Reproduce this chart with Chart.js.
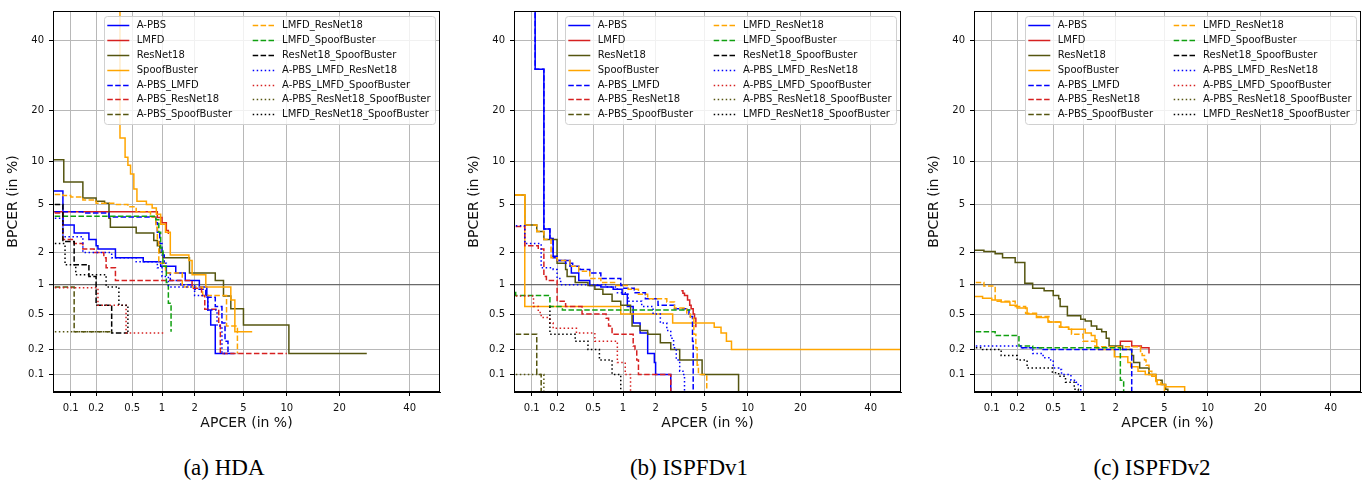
<!DOCTYPE html>
<html>
<head>
<meta charset="utf-8">
<script src="https://cdn.jsdelivr.net/npm/chart.js@4.4.1/dist/chart.umd.min.js"></script>
<style>
body { margin: 0; background: #fff; width: 1371px; height: 487px; overflow: hidden; position: relative; }
canvas { position: absolute; top: 0; }
.cap { position: absolute; top: 455px; width: 300px; text-align: center; font-family: "Liberation Serif", "Times New Roman", serif; font-size: 23px; line-height: 26px; color: #000; }
</style>
</head>
<body>
<canvas id="hda" width="450" height="440" style="left:0px"></canvas>
<canvas id="v1" width="450" height="440" style="left:461px"></canvas>
<canvas id="v2" width="450" height="440" style="left:921px"></canvas>
<div class="cap" style="left:74px">(a) HDA</div>
<div class="cap" style="left:539px">(b) ISPFDv1</div>
<div class="cap" style="left:1002px">(c) ISPFDv2</div>
<script>
// axis ticks (percent) and limits
const tickValues = [0.1, 0.2, 0.5, 1, 2, 5, 10, 20, 40];
const axisMin = 0.06;
const axisMax = 50;

const seriesNames = ['A-PBS', 'LMFD', 'ResNet18', 'SpoofBuster', 'A-PBS_LMFD', 'A-PBS_ResNet18',
    'A-PBS_SpoofBuster', 'LMFD_ResNet18', 'LMFD_SpoofBuster', 'ResNet18_SpoofBuster',
    'A-PBS_LMFD_ResNet18', 'A-PBS_LMFD_SpoofBuster', 'A-PBS_ResNet18_SpoofBuster', 'LMFD_ResNet18_SpoofBuster'];

// [APCER %, BPCER %] step points
// (a) HDA
const hda_APBS = [[0.05,6.3],[0.08,3.45],[0.11,2.95],[0.165,2.6],[0.2,2.3],[0.21,2.15],[0.33,1.8],[0.65,1.65],[0.97,1.5],[1.35,1.3],[1.65,1.1],[2.2,0.95],[2.55,0.78],[2.6,0.55],[2.75,0.38],[3.0,0.18],[3.8,0.18]];
const hda_LMFD = [[0.05,4.4],[0.9,3.95],[1.0,3.6],[1.1,3.1],[1.15,2.9]];
const hda_ResNet18 = [[0.05,10.3],[0.082,7.3],[0.14,5.6],[0.2,5.3],[0.25,5.1],[0.28,3.9],[0.29,3.3],[0.55,2.95],[0.83,2.55],[0.9,2.3],[0.95,2.0],[1.02,1.8],[1.8,1.3],[3.0,1.1],[3.5,0.77],[4.0,0.57],[5.0,0.38],[10.3,0.18],[27,0.18]];
const hda_SpoofBuster = [[0.37,60],[0.37,14],[0.42,10.7],[0.45,9.5],[0.48,8.3],[0.52,6.5],[0.56,5.3],[0.7,5.0],[0.8,4.7],[0.88,4.2],[0.97,3.5],[1.08,3.0],[1.2,1.9],[1.78,1.7],[1.9,1.25],[2.5,0.95],[4.0,0.7],[4.3,0.32],[5.8,0.32]];
const hda_APBS_LMFD = [[0.05,4.4],[0.14,4.3],[0.28,4.0],[0.87,3.6],[0.9,3.0],[0.95,2.4],[1.0,1.9],[1.05,1.6],[1.1,1.3],[1.2,1.1],[1.5,1.0],[2.0,0.9],[2.5,0.75],[3.0,0.6],[3.4,0.4],[3.6,0.25],[3.8,0.18],[4.5,0.18]];
const hda_APBS_ResNet18 = [[0.05,4.3],[0.08,2.6],[0.11,2.4],[0.14,2.15],[0.19,2.0],[0.245,1.8],[0.26,1.45],[0.33,1.1],[1.9,0.92],[2.3,0.78],[2.45,0.56],[3.2,0.38],[3.3,0.18],[10,0.18]];
const hda_APBS_SpoofBuster = [[0.05,0.95],[0.11,0.32],[0.3,0.32]];
const hda_LMFD_ResNet18 = [[0.05,5.95],[0.08,5.85],[0.1,5.7],[0.14,5.4],[0.2,5.1],[0.33,5.0],[0.45,4.8],[0.55,4.4],[0.77,4.0],[0.87,3.3],[0.9,2.5],[0.93,1.6],[1.08,1.3],[1.55,0.95],[2.35,0.78],[3.7,0.37],[4.5,0.18]];
const hda_LMFD_SpoofBuster = [[0.05,4.05],[0.87,3.8],[0.93,3.0],[0.97,2.2],[1.02,1.5],[1.1,1.05],[1.15,0.65],[1.22,0.32]];
const hda_ResNet18_SpoofBuster = [[0.05,5.0],[0.08,2.5],[0.11,1.55],[0.165,1.2],[0.2,0.62],[0.3,0.31],[0.45,0.31]];
const hda_APBS_LMFD_ResNet18 = [[0.05,3.9],[0.08,2.75],[0.14,2.0],[0.3,1.8],[0.55,1.65],[0.9,1.45],[1.0,1.2],[1.15,0.95],[2.0,0.78],[2.6,0.55],[3.1,0.37],[3.4,0.18],[4.0,0.18]];
const hda_APBS_LMFD_SpoofBuster = [[0.05,0.93],[0.21,0.62],[0.43,0.31],[1.08,0.31]];
const hda_APBS_ResNet18_SpoofBuster = [[0.05,0.32],[0.3,0.32]];
const hda_LMFD_ResNet18_SpoofBuster = [[0.05,2.4],[0.085,1.55],[0.115,1.25],[0.26,0.95],[0.36,0.62],[0.45,0.31]];

// (b) ISPFDv1
const v1_APBS = [[0.11,60],[0.11,31],[0.14,3.2],[0.165,2.65],[0.18,1.8],[0.2,1.7],[0.28,1.5],[0.29,1.3],[0.35,1.1],[0.46,0.98],[0.6,0.95],[0.8,0.9],[0.98,0.8],[1.1,0.6],[1.25,0.4],[1.45,0.31],[1.7,0.18],[1.95,0.14],[2.0,0.1],[2.7,0.04]];
const v1_LMFD = [[3.3,0.87],[3.4,0.82],[3.5,0.78],[3.7,0.7],[3.85,0.62],[3.95,0.57],[4.1,0.5],[4.2,0.45],[4.3,0.36]];
const v1_ResNet18 = [[0.05,5.9],[0.082,3.45],[0.115,3.05],[0.14,2.6],[0.2,1.6],[0.25,1.4],[0.26,1.2],[0.32,1.05],[0.44,0.98],[0.52,0.9],[0.63,0.8],[0.78,0.68],[0.95,0.62],[1.18,0.5],[1.22,0.37],[1.45,0.33],[1.7,0.3],[2.2,0.24],[2.7,0.2],[3.2,0.15],[4.8,0.1],[8.7,0.04]];
const v1_SpoofBuster = [[0.05,5.9],[0.082,0.6],[0.95,0.5],[2.8,0.4],[5.9,0.36],[6.6,0.31],[7.2,0.25],[7.8,0.2],[60,0.2]];
const v1_APBS_LMFD = [[0.11,60],[0.11,31],[0.14,3.2],[0.165,2.65],[0.18,1.85],[0.2,1.7],[0.25,1.6],[0.3,1.5],[0.36,1.4],[0.46,1.3],[0.6,1.15],[0.95,0.98],[1.02,0.92],[1.28,0.83],[1.62,0.72],[2.1,0.62],[2.9,0.57],[3.8,0.47],[4.05,0.25],[4.1,0.04]];
const v1_APBS_ResNet18 = [[0.05,3.35],[0.082,2.3],[0.12,2.15],[0.14,1.2],[0.15,1.1],[0.2,0.68],[0.25,0.6],[0.38,0.5],[0.68,0.45],[0.72,0.37],[0.78,0.3],[1.25,0.22],[1.3,0.2],[1.35,0.15],[1.4,0.1],[2.7,0.04]];
const v1_APBS_SpoofBuster = [[0.05,0.3],[0.115,0.1],[0.13,0.04]];
const v1_LMFD_ResNet18 = [[0.05,5.9],[0.082,3.45],[0.115,3.05],[0.14,2.6],[0.17,1.8],[0.2,1.7],[0.28,1.5],[0.35,1.35],[0.46,1.15],[0.6,1.05],[0.85,0.98],[1.12,0.9],[1.4,0.8],[1.7,0.72],[2.5,0.67],[2.9,0.58],[3.65,0.5],[3.9,0.45],[4.15,0.3],[4.3,0.21],[4.4,0.13],[4.5,0.1],[5.2,0.04]];
const v1_LMFD_SpoofBuster = [[0.05,0.85],[0.063,0.78],[0.165,0.6],[0.23,0.55],[3.9,0.55]];
const v1_ResNet18_SpoofBuster = [];
const v1_APBS_LMFD_ResNet18 = [[0.05,3.4],[0.082,2.4],[0.13,1.45],[0.18,1.4],[0.2,1.15],[0.22,1.0],[0.7,0.95],[0.88,0.83],[1.05,0.8],[1.12,0.68],[1.5,0.6],[1.9,0.5],[2.2,0.4],[2.5,0.33],[2.7,0.27],[2.85,0.21],[3.0,0.15],[3.2,0.11],[3.4,0.1],[3.5,0.04]];
const v1_APBS_LMFD_SpoofBuster = [[0.05,0.77],[0.105,0.6],[0.12,0.52],[0.13,0.46],[0.165,0.4],[0.18,0.35],[0.33,0.31],[0.52,0.25],[0.88,0.14],[1.05,0.1],[1.18,0.04]];
const v1_APBS_ResNet18_SpoofBuster = [[0.05,0.1],[0.14,0.04]];
const v1_LMFD_ResNet18_SpoofBuster = [[0.165,0.6],[0.165,0.3],[0.32,0.25],[0.44,0.2],[0.58,0.15],[0.78,0.1],[0.95,0.04]];

// (c) ISPFDv2
const v2_APBS = [];
const v2_LMFD = [[2.2,0.21],[2.2,0.25],[2.75,0.22],[3.3,0.21],[3.8,0.18]];
const v2_ResNet18 = [[0.05,2.1],[0.08,2.05],[0.11,1.95],[0.135,1.8],[0.19,1.63],[0.245,1.03],[0.3,0.92],[0.4,0.87],[0.5,0.78],[0.57,0.72],[0.59,0.6],[0.7,0.48],[0.95,0.44],[1.05,0.42],[1.2,0.37],[1.35,0.34],[1.5,0.32],[1.65,0.27],[1.75,0.22],[2.3,0.2],[2.75,0.17],[2.85,0.14],[3.2,0.12],[3.8,0.1],[4.3,0.085],[4.8,0.075],[5.1,0.065],[5.3,0.04]];
const v2_SpoofBuster = [[0.05,0.76],[0.077,0.73],[0.1,0.7],[0.13,0.67],[0.165,0.62],[0.2,0.58],[0.26,0.5],[0.33,0.46],[0.44,0.41],[0.6,0.36],[0.72,0.34],[1.05,0.31],[1.2,0.29],[1.3,0.26],[1.35,0.21],[1.4,0.2],[1.95,0.165],[2.55,0.14],[2.7,0.125],[3.1,0.11],[3.55,0.1],[4.0,0.095],[4.3,0.082],[4.4,0.075],[5.1,0.07],[7,0.04]];
const v2_APBS_LMFD = [[0.22,0.21],[0.39,0.2],[2.75,0.04]];
const v2_APBS_ResNet18 = [];
const v2_APBS_SpoofBuster = [];
const v2_LMFD_ResNet18 = [[0.05,1.05],[0.08,0.97],[0.11,0.68],[0.19,0.6],[0.25,0.51],[0.33,0.47],[0.45,0.41],[0.58,0.36],[0.72,0.34],[0.77,0.3],[1.0,0.25],[1.3,0.215],[3.25,0.19],[3.35,0.17],[3.5,0.15],[3.6,0.13],[3.8,0.11],[4.0,0.1],[4.3,0.085],[4.7,0.075],[5.0,0.04]];
const v2_LMFD_SpoofBuster = [[0.05,0.32],[0.11,0.29],[0.21,0.22],[0.3,0.21],[2.2,0.085],[2.35,0.04]];
const v2_ResNet18_SpoofBuster = [];
const v2_APBS_LMFD_ResNet18 = [[0.05,0.22],[0.22,0.21],[0.29,0.2],[0.3,0.18],[0.39,0.16],[0.47,0.15],[0.5,0.12],[0.57,0.115],[0.61,0.1],[0.76,0.085],[0.85,0.08],[0.88,0.075],[0.95,0.04]];
const v2_APBS_LMFD_SpoofBuster = [];
const v2_APBS_ResNet18_SpoofBuster = [];
const v2_LMFD_ResNet18_SpoofBuster = [[0.05,0.21],[0.077,0.2],[0.13,0.17],[0.2,0.15],[0.26,0.12],[0.49,0.105],[0.57,0.095],[0.67,0.08],[0.82,0.065],[0.9,0.04]];

const hdaSeries = [hda_APBS, hda_LMFD, hda_ResNet18, hda_SpoofBuster, hda_APBS_LMFD, hda_APBS_ResNet18,
    hda_APBS_SpoofBuster, hda_LMFD_ResNet18, hda_LMFD_SpoofBuster, hda_ResNet18_SpoofBuster,
    hda_APBS_LMFD_ResNet18, hda_APBS_LMFD_SpoofBuster, hda_APBS_ResNet18_SpoofBuster, hda_LMFD_ResNet18_SpoofBuster];
const v1Series = [v1_APBS, v1_LMFD, v1_ResNet18, v1_SpoofBuster, v1_APBS_LMFD, v1_APBS_ResNet18,
    v1_APBS_SpoofBuster, v1_LMFD_ResNet18, v1_LMFD_SpoofBuster, v1_ResNet18_SpoofBuster,
    v1_APBS_LMFD_ResNet18, v1_APBS_LMFD_SpoofBuster, v1_APBS_ResNet18_SpoofBuster, v1_LMFD_ResNet18_SpoofBuster];
const v2Series = [v2_APBS, v2_LMFD, v2_ResNet18, v2_SpoofBuster, v2_APBS_LMFD, v2_APBS_ResNet18,
    v2_APBS_SpoofBuster, v2_LMFD_ResNet18, v2_LMFD_SpoofBuster, v2_ResNet18_SpoofBuster,
    v2_APBS_LMFD_ResNet18, v2_APBS_LMFD_SpoofBuster, v2_APBS_ResNet18_SpoofBuster, v2_LMFD_ResNet18_SpoofBuster];

// line styles
const BLUE = '#0000ff', RED = '#d62020', OLIVE = '#555510', ORANGE = '#ffa500', GREEN = '#10a010', BLACK = '#000000';
const seriesColors = [BLUE, RED, OLIVE, ORANGE, BLUE, RED, OLIVE, ORANGE, GREEN, BLACK, BLUE, RED, OLIVE, BLACK];
const seriesDash = ['solid', 'solid', 'solid', 'solid', 'dashed', 'dashed', 'dashed', 'dashed', 'dashed', 'dashed',
    'dotted', 'dotted', 'dotted', 'dotted'];
const dashes = { solid: [], dashed: [5.5, 2.4], dotted: [1.5, 2.5] };

// inverse normal CDF (Acklam)
function probit(p) {
    const a = [-3.969683028665376e+01, 2.209460984245205e+02, -2.759285104469687e+02, 1.383577518672690e+02, -3.066479806614716e+01, 2.506628277459239e+00];
    const b = [-5.447609879822406e+01, 1.615858368580409e+02, -1.556989798598866e+02, 6.680131188771972e+01, -1.328068155288572e+01];
    const c = [-7.784894002430293e-03, -3.223964580411365e-01, -2.400758277161838e+00, -2.549732539343734e+00, 4.374664141464968e+00, 2.938163982698783e+00];
    const d = [7.784695709041462e-03, 3.224671290700398e-01, 2.445134137142996e+00, 3.754408661907416e+00];
    const pl = 0.02425;
    let q, r;
    if (p < pl) {
        q = Math.sqrt(-2 * Math.log(p));
        return (((((c[0]*q+c[1])*q+c[2])*q+c[3])*q+c[4])*q+c[5]) / ((((d[0]*q+d[1])*q+d[2])*q+d[3])*q+1);
    }
    if (p <= 1 - pl) {
        q = p - 0.5; r = q * q;
        return (((((a[0]*r+a[1])*r+a[2])*r+a[3])*r+a[4])*r+a[5])*q / (((((b[0]*r+b[1])*r+b[2])*r+b[3])*r+b[4])*r+1);
    }
    q = Math.sqrt(-2 * Math.log(1 - p));
    return -(((((c[0]*q+c[1])*q+c[2])*q+c[3])*q+c[4])*q+c[5]) / ((((d[0]*q+d[1])*q+d[2])*q+d[3])*q+1);
}

// normal deviate scale for DET plots (values in percent)
class ProbitScale extends Chart.Scale {
    static id = 'probit';
    static defaults = {};
    parse(raw, index) {
        const v = Chart.LinearScale.prototype.parse.apply(this, [raw, index]);
        return isFinite(v) && v > 0 && v < 100 ? v : null;
    }
    determineDataLimits() {
        this.min = axisMin;
        this.max = axisMax;
    }
    buildTicks() {
        return tickValues.map(v => ({ value: v }));
    }
    configure() {
        super.configure();
        this._start = probit(this.min / 100);
        this._range = probit(this.max / 100) - this._start;
    }
    getLabelForValue(v) { return String(v); }
    getPixelForValue(v) {
        if (v === undefined || v === null || v <= 0) v = this.min;
        return this.getPixelForDecimal((probit(v / 100) - this._start) / this._range);
    }
    getValueForPixel(px) {
        return this._start + this.getDecimalForPixel(px) * this._range;
    }
}
Chart.register(ProbitScale);

const frame = {
    id: 'frame',
    afterDatasetsDraw(chart) {
        const { ctx, chartArea: a } = chart;
        ctx.save();
        ctx.strokeStyle = '#000';
        ctx.lineWidth = 1;
        ctx.strokeRect(Math.round(a.left) + 0.5, Math.round(a.top) + 0.5, Math.round(a.right - a.left) - 1, Math.round(a.bottom - a.top) - 1);
        ctx.restore();
    }
};

const legendBox = {
    id: 'legendBox',
    afterDraw(chart) {
        const { ctx, chartArea: a } = chart;
        const bw = 331, bh = 108;
        const bx = a.right - 5 - bw, by = a.top + 5;
        ctx.save();
        ctx.beginPath();
        ctx.roundRect(bx + 0.5, by + 0.5, bw, bh, 3);
        ctx.fillStyle = 'rgba(255,255,255,0.8)';
        ctx.fill();
        ctx.strokeStyle = '#d0d0d0';
        ctx.lineWidth = 1;
        ctx.stroke();
        ctx.font = '10px "DejaVu Sans"';
        ctx.textBaseline = 'middle';
        chart.data.datasets.forEach((ds, i) => {
            const col = i < 7 ? 0 : 1;
            const row = i % 7;
            const x0 = bx + (col ? 148.7 : 3.3);
            const y = Math.round(by + 9.3 + row * 14.83) + 0.5;
            ctx.beginPath();
            ctx.setLineDash(ds.borderDash);
            ctx.strokeStyle = ds.borderColor;
            ctx.lineWidth = ds.borderWidth;
            ctx.moveTo(x0, y);
            ctx.lineTo(x0 + 22, y);
            ctx.stroke();
            ctx.setLineDash([]);
            ctx.fillStyle = '#111';
            ctx.fillText(ds.label, x0 + 29.4, y);
        });
        ctx.restore();
    }
};

const tickFont = { family: 'DejaVu Sans', size: 10 };
const titleFont = { family: 'DejaVu Sans', size: 14 };

function makeChart(id, series) {
    const datasets = seriesNames.map((name, i) => ({
        label: name,
        data: series[i].map(p => ({ x: p[0], y: p[1] })),
        borderColor: seriesColors[i],
        borderWidth: 1.5,
        borderDash: dashes[seriesDash[i]],
        stepped: 'before',   // horizontal first, then drop
        pointRadius: 0,
        fill: false,
        clip: 0,
        order: seriesNames.length - i
    }));

    return new Chart(document.getElementById(id), {
        type: 'line',
        data: { datasets },
        options: {
            responsive: false,
            animation: false,
            events: [],
            layout: { padding: { left: 0, top: 5, right: 10, bottom: 0 } },
            plugins: { legend: { display: false }, tooltip: { enabled: false } },
            scales: {
                x: {
                    type: 'probit',
                    grid: { color: '#b8b8b8', lineWidth: 1, tickColor: '#000', tickLength: 4, tickWidth: 1 },
                    border: { display: true, color: '#000', width: 1 },
                    ticks: { autoSkip: false, maxRotation: 0, padding: 6, color: '#111', font: tickFont, callback: v => String(v) },
                    title: { display: true, text: 'APCER (in %)', color: '#111', font: titleFont, padding: { top: 0, bottom: 8 } },
                    afterFit: s => { s.height = 48; }
                },
                y: {
                    type: 'probit',
                    grid: {
                        color: c => (c.tick && c.tick.value === 1) ? '#6a6a6a' : '#b8b8b8',
                        lineWidth: c => (c.tick && c.tick.value === 1) ? 1.3 : 1,
                        tickColor: '#000', tickLength: 4, tickWidth: 1
                    },
                    border: { display: true, color: '#000', width: 1 },
                    ticks: { autoSkip: false, padding: 5, color: '#111', font: tickFont, callback: v => String(v) },
                    title: { display: true, text: 'BPCER (in %)', color: '#111', font: titleFont, padding: { top: 5, bottom: 0 } },
                    afterFit: s => { s.width = 53; }
                }
            }
        },
        plugins: [frame, legendBox]
    });
}

makeChart('hda', hdaSeries);
makeChart('v1', v1Series);
makeChart('v2', v2Series);
</script>
</body>
</html>
